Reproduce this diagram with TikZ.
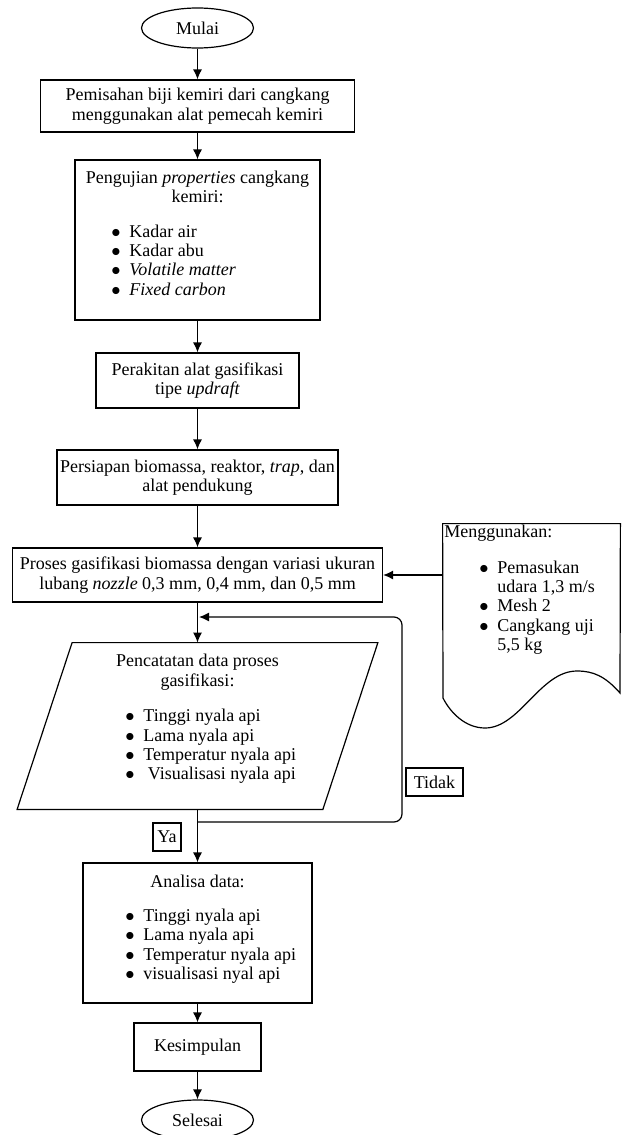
\documentclass[tikz,border=0pt]{standalone}
\usepackage{fontspec}
\setmainfont{Liberation Serif}
\usepackage{tikz}
\usetikzlibrary{arrows.meta, positioning, shapes.geometric, calc}

\newcommand{\itm}{\makebox[9pt][l]{$\bullet$}}
\newcommand{\cnt}{\hspace*{9pt}}

\begin{document}
\begin{tikzpicture}[x=0.5pt, y=-0.5pt,
    font=\fontsize{9}{9.7}\selectfont,
    box/.style={draw, line width=0.6pt, inner sep=0pt, align=center},
    term/.style={draw, line width=0.6pt, ellipse, inner sep=0pt, minimum width=56pt, minimum height=20pt},
    txt/.style={inner sep=0pt, align=left},
    arr/.style={-{Latex[length=5pt,width=4.5pt]}, line width=0.6pt}]
                \useasboundingbox (0,0) rectangle (622,1135);

                % Main flow
                \node[term] (mulai) at (197.5,28) {Mulai};
                \node[box, minimum width=157pt, minimum height=26pt] (pisah) at (197.5,106)
                    {Pemisahan biji kemiri dari cangkang\\menggunakan alat pemecah kemiri};

                \node[box, minimum width=122.5pt, minimum height=80pt] (uji) at (197.5,240) {};
                \node[txt, align=center] (ujititle) at (197.5,187) {Pengujian \textit{properties} cangkang\\kemiri:};
                \node[txt, anchor=west] (ujilist) at (111,260)
                    {\itm Kadar air\\ \itm Kadar abu\\ \itm\textit{Volatile matter}\\ \itm\textit{Fixed carbon}};

                \node[box, minimum width=101.5pt, minimum height=27.5pt] (rakit) at (197.5,380.5)
                    {Perakitan alat gasifikasi\\tipe \textit{updraft}};
                \node[box, minimum width=140.5pt, minimum height=27.5pt] (siap) at (197.5,477.5)
                    {Persiapan biomassa, reaktor, \textit{trap}, dan\\alat pendukung};
                \node[box, minimum width=185pt, minimum height=27pt] (proses) at (197.5,575)
                    {Proses gasifikasi biomassa dengan variasi ukuran\\lubang \textit{nozzle} 0,3 mm, 0,4 mm, dan 0,5 mm};

                % Data recording
                \node[inner sep=0pt, minimum width=180pt, minimum height=83pt] (catat) at (197.5,726) {};
                \draw[line width=0.6pt] (catat.south west) -- ([xshift=-27.5pt]catat.south east)
                    -- (catat.north east) -- ([xshift=27.5pt]catat.north west) -- cycle;
                \node[txt, align=center] (catattitle) at (197.5,672) {Pencatatan data proses\\gasifikasi:};
                \node[txt, anchor=west] (catatlist) at (125,746.5)
                    {\itm Tinggi nyala api\\ \itm Lama nyala api\\ \itm Temperatur nyala api\\ \itm\ Visualisasi nyala api};

                \node[box, minimum width=114.5pt, minimum height=70pt] (analisa) at (197.5,933) {};
                \node[txt] (analisatitle) at (197.5,881) {Analisa data:};
                \node[txt, anchor=west] (analisalist) at (125,946)
                    {\itm Tinggi nyala api\\ \itm Lama nyala api\\ \itm Temperatur nyala api\\ \itm visualisasi nyal api};

                \node[box, minimum width=63.5pt, minimum height=24pt] (simpul) at (197.5,1047) {Kesimpulan};
                \node[term] (selesai) at (197.5,1120) {Selesai};

                % Input document
                \node[inner sep=0pt, minimum width=88.5pt, minimum height=102pt] (guna) at (531.5,626) {};
                \draw[line width=0.6pt] (443,698) -- (guna.north west) -- (guna.north east) -- (620,693)
                    .. controls (605,676) and (593,671) .. (577,671)
                    .. controls (540,671) and (520,728) .. (485,728)
                    .. controls (465,728) and (450,712) .. (443,698);
                \node[txt, anchor=west] (gunatitle) at (444,533) {Menggunakan:};
                \node[txt, anchor=west] (gunalist) at (479,607.5)
                    {\itm Pemasukan\\ \cnt udara 1,3 m/s\\ \itm Mesh 2\\ \itm Cangkang uji\\ \cnt 5,5 kg};

                % Labels
                \node[box, minimum width=28.5pt, minimum height=14pt] (tidak) at (434.5,782) {Tidak};
                \node[box, minimum width=14pt, minimum height=14pt] (ya) at (167,837) {Ya};

                % Connectors
                \draw[arr] (mulai) -- (pisah);
                \draw[arr] (pisah) -- (uji);
                \draw[arr] (uji) -- (rakit);
                \draw[arr] (rakit) -- (siap);
                \draw[arr] (siap) -- (proses);
                \draw[arr] (proses) -- (catat);
                \draw[arr] (catat) -- (analisa);
                \draw[arr] (analisa) -- (simpul);
                \draw[arr] (simpul) -- (selesai);
                \draw[arr] (proses.east -| guna.west) -- (proses.east);

                % Loop back
                \coordinate (junA) at (199,617);
                \coordinate (junB) at (197.5,822);
                \draw[arr, rounded corners=4pt] (junB) -- (402,822) -- (402,617) -- (junA);
            \end{tikzpicture}
\end{document}
